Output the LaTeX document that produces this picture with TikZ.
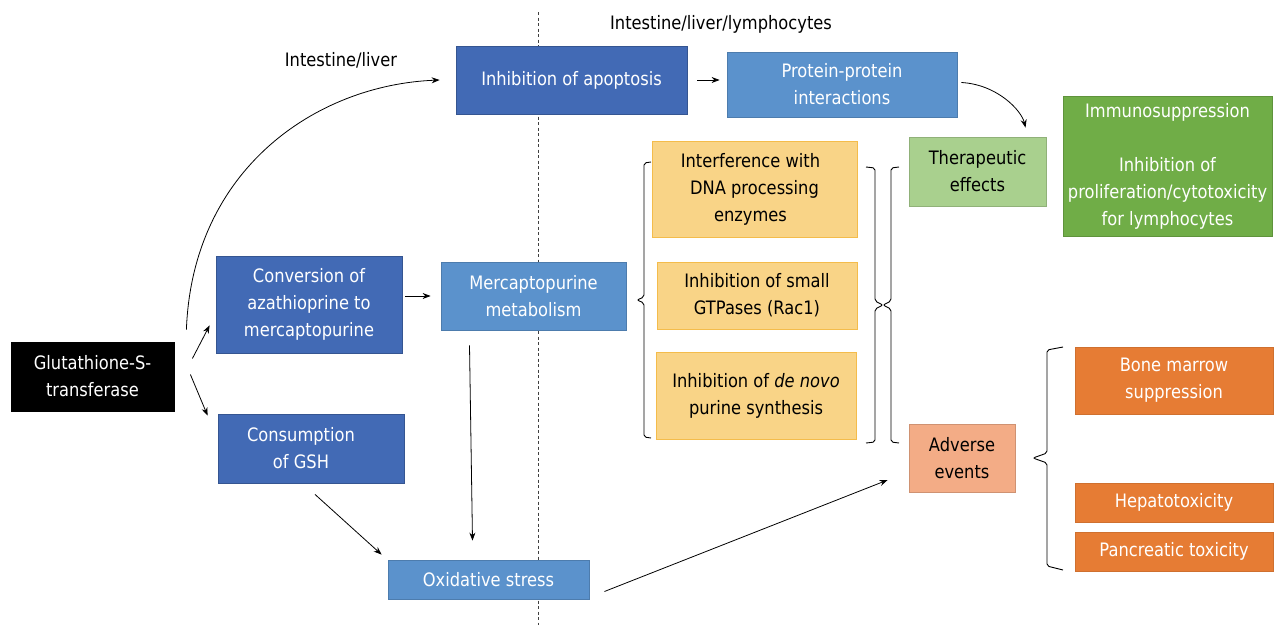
\documentclass[tikz,border=0pt]{standalone}
\usepackage{fontspec}
\setmainfont{DejaVu Sans}[FakeStretch=0.88]
\usetikzlibrary{arrows.meta}
\definecolor{cdblue}{RGB}{66,106,181}
\definecolor{clblue}{RGB}{91,146,204}
\definecolor{clgreen}{RGB}{169,208,142}
\definecolor{cdgreen}{RGB}{112,173,71}
\definecolor{cyellow}{RGB}{249,212,135}
\definecolor{cyelbord}{RGB}{244,188,75}
\definecolor{corange}{RGB}{230,124,52}
\definecolor{csalmon}{RGB}{243,172,134}
\begin{document}
\begin{tikzpicture}[x=1pt,y=-1pt,
  font=\fontsize{18.5}{27}\selectfont,
  box/.style={rectangle, draw, line width=0.8pt, align=center, inner sep=2pt},
  dbox/.style={box, fill=cdblue, draw=cdblue!80!black, text=white},
  lbox/.style={box, fill=clblue, draw=clblue!85!black, text=white},
  ybox/.style={box, fill=cyellow, draw=cyelbord, text=black},
  obox/.style={box, fill=corange, draw=corange!90!black, text=white},
  arr/.style={-{Stealth[length=8pt,width=6pt]}, line width=0.8pt},
  brc/.style={line width=0.9pt, rounded corners=2pt},
  lbl/.style={text=black}]
\useasboundingbox (0,0) rectangle (1274,625);
\fill[white] (0,0) rectangle (1274,625);
% dashed divider
\draw[dashed, dash pattern=on 3pt off 2.5pt, line width=0.7pt, black!75] (538,12) -- (538,625);

% labels
\node[lbl] (lblil) at (341,60) {Intestine/liver};
\node[lbl] (lblill) at (721,24) {Intestine/liver/lymphocytes};

% nodes
\node[dbox, minimum width=231pt, minimum height=68pt] (apop) at (571.5,80) {Inhibition of apoptosis};
\node[lbox, minimum width=230pt, minimum height=65pt] (prot) at (842,84.5) {Protein-protein\\interactions};
\node[box, fill=clgreen, draw=clgreen!85!black, text=black, minimum width=137pt, minimum height=69pt] (ther) at (977.5,171.5) {Therapeutic\\effects};
\node[box, fill=cdgreen, draw=cdgreen!85!black, text=white, minimum width=209pt, minimum height=140pt] (immu) at (1167.5,166) {Immunosuppression\\[27pt]Inhibition of\\proliferation/cytotoxicity\\for lymphocytes};
\node[ybox, minimum width=205pt, minimum height=96pt] (yone) at (754.5,189) {Interference with\hspace*{8pt}\\DNA processing\hspace*{8pt}\\enzymes\hspace*{8pt}};
\node[ybox, minimum width=200pt, minimum height=67pt] (ytwo) at (757,295.5) {Inhibition of small\\GTPases (Rac1)};
\node[ybox, minimum width=200pt, minimum height=87pt] (ythree) at (756,395.5) {Inhibition of \textit{de novo}\\purine synthesis};
\node[obox, minimum width=198pt, minimum height=67pt] (bone) at (1174,380.5) {Bone marrow\\suppression};
\node[obox, minimum width=198pt, minimum height=39pt] (hep) at (1174,502.5) {Hepatotoxicity};
\node[obox, minimum width=198pt, minimum height=39pt] (pan) at (1174,551.5) {Pancreatic toxicity};
\node[box, fill=csalmon, draw=csalmon!85!black, text=black, minimum width=106pt, minimum height=68pt] (adv) at (962,458) {Adverse\\events};
\node[box, fill=black, draw=black, text=white, minimum width=163pt, minimum height=69pt] (glut) at (92.5,376.5) {Glutathione-S-\\transferase};
\node[dbox, minimum width=186pt, minimum height=97pt] (conv) at (309,304.5) {Conversion of\\azathioprine to\\mercaptopurine};
\node[lbox, minimum width=185pt, minimum height=68pt] (merc) at (533.5,296) {Mercaptopurine\\metabolism};
\node[dbox, minimum width=186pt, minimum height=69pt] (cons) at (311,448.5) {Consumption\hspace*{20pt}\\of GSH\hspace*{20pt}};
\node[lbox, minimum width=201pt, minimum height=39pt] (ox) at (488.5,579.5) {Oxidative stress};

% braces
\draw[brc] (651,162) -- (644,163) -- (644,297) -- (637,300) -- (644,303) -- (644,437) -- (651,438);
\draw[brc] (866,167) -- (875,168) -- (875,301) -- (883,305) -- (875,309) -- (875,442) -- (866,443);
\draw[brc] (899,167) -- (891,168) -- (891,301) -- (883,305) -- (891,309) -- (891,442) -- (899,443);
\draw[brc] (1063,347) -- (1047,350) -- (1047,453) -- (1033,458) -- (1047,463) -- (1047,566) -- (1063,570);

% connectors
\draw[arr] ([xshift=12pt,yshift=12pt]glut.north east) .. controls ([xshift=18pt,yshift=172pt]glut.north east) and ([xshift=-140pt,yshift=-5pt]apop.west) .. ([xshift=-16pt]apop.west);
\draw[arr] ([xshift=18pt,yshift=18pt]glut.east) -- ([xshift=-6pt,yshift=28pt]conv.south west);
\draw[arr] ([xshift=16pt,yshift=2pt]glut.east) -- ([xshift=-10pt,yshift=-2pt]cons.north west);
\draw[arr] ([xshift=3pt]conv.east |- merc.west) -- ([xshift=-10pt]merc.west);
\draw[arr] ([xshift=-64pt,yshift=-15pt]merc.south) -- ([xshift=-16pt,yshift=19pt]ox.north);
\draw[arr] ([xshift=4pt,yshift=-11pt]cons.south) -- ([xshift=-6pt,yshift=5pt]ox.north west);
\draw[arr] ([xshift=15pt,yshift=-12pt]ox.east) -- ([xshift=-21pt,yshift=-22pt]adv.west);
\draw[arr] ([xshift=10pt]apop.east) -- ([xshift=-7pt]apop.east -| prot.west);
\draw[arr] ([xshift=4pt,yshift=2pt]prot.east) .. controls ([xshift=40pt,yshift=0pt]prot.east) and ([xshift=44pt,yshift=26pt]ther.north) .. ([xshift=48pt,yshift=9pt]ther.north);
\end{tikzpicture}
\end{document}
